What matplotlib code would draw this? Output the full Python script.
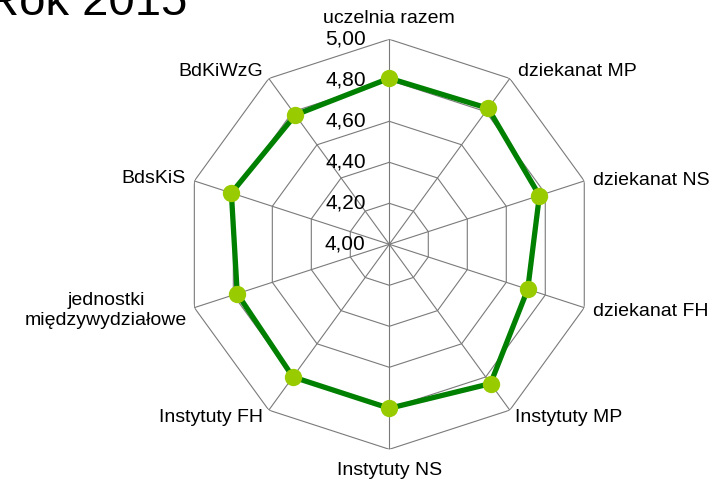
import numpy as np
import matplotlib
matplotlib.use("Agg")
import matplotlib.pyplot as plt

plt.rcParams['font.family'] = ['Liberation Sans', 'DejaVu Sans']

categories = ["uczelnia razem", "dziekanat MP", "dziekanat NS", "dziekanat FH",
              "Instytuty MP", "Instytuty NS", "Instytuty FH",
              "jednostki\nmiędzywydziałowe", "BdsKiS", "BdKiWzG"]
values = [4.81, 4.82, 4.77, 4.71, 4.84, 4.80, 4.80, 4.78, 4.81, 4.78]
ticks = [4.00, 4.20, 4.40, 4.60, 4.80, 5.00]
tick_labels = ["4,00", "4,20", "4,40", "4,60", "4,80", "5,00"]
title = "Rok 2015"

W, H = 715, 482
fig = plt.figure(figsize=(W / 100, H / 100), dpi=100)
cx, cy, R = 389.3, 244.3, 205.0
ax = fig.add_axes([(cx - R) / W, (H - cy - R) / H, 2 * R / W, 2 * R / H], projection='polar')
ax.set_theta_zero_location('N')
ax.set_theta_direction(-1)
ax.set_ylim(ticks[0], ticks[-1])
ax.grid(False)
ax.spines['polar'].set_visible(False)
ax.set_xticks([])
ax.set_yticks([])
ax.patch.set_visible(False)

n = len(categories)
angles = np.linspace(0, 2 * np.pi, n, endpoint=False)
closed = np.concatenate([angles, angles[:1]])

grid_color = '#7a7a7a'
for t in ticks[1:]:
    ax.plot(closed, [t] * (n + 1), color=grid_color, lw=0.8, zorder=1)
for a in angles:
    ax.plot([a, a], [ticks[0], ticks[-1]], color=grid_color, lw=0.8, zorder=1)

vals = values + values[:1]
ax.plot(closed, vals, color='#008000', lw=3.8, zorder=3, solid_joinstyle='round')
ax.plot(angles, values, 'o', color='#99CC00', markersize=12.5, markeredgewidth=0, zorder=4)

# tick labels along the top spoke
for t, lab in zip(ticks, tick_labels):
    ax.annotate(lab, xy=(0, t), xytext=(-17, 0), textcoords='offset points',
                ha='right', va='center', fontsize=15, color='#000000', zorder=5)

# category labels
offsets = [
    (0, 15, 'center', 'center'),
    (6, 5, 'left', 'center'),
    (6, 0, 'left', 'center'),
    (6, -3, 'left', 'center'),
    (4, -5, 'left', 'center'),
    (0, -15, 'center', 'center'),
    (-4, -5, 'right', 'center'),
    (-5, -2, 'right', 'center'),
    (-6, 2, 'right', 'center'),
    (-4, 5, 'right', 'center'),
]
for a, lab, (dx, dy, ha, va) in zip(angles, categories, offsets):
    ax.annotate(lab, xy=(a, ticks[-1]), xytext=(dx, dy), textcoords='offset points',
                ha=ha, va=va, fontsize=14, color='#000000', multialignment='center',
                annotation_clip=False)

fig.text(-15 / W, 1 - 15 / H, title, fontsize=34, ha='left', va='baseline', color='#000000')

fig.savefig('out.png', dpi=100)
